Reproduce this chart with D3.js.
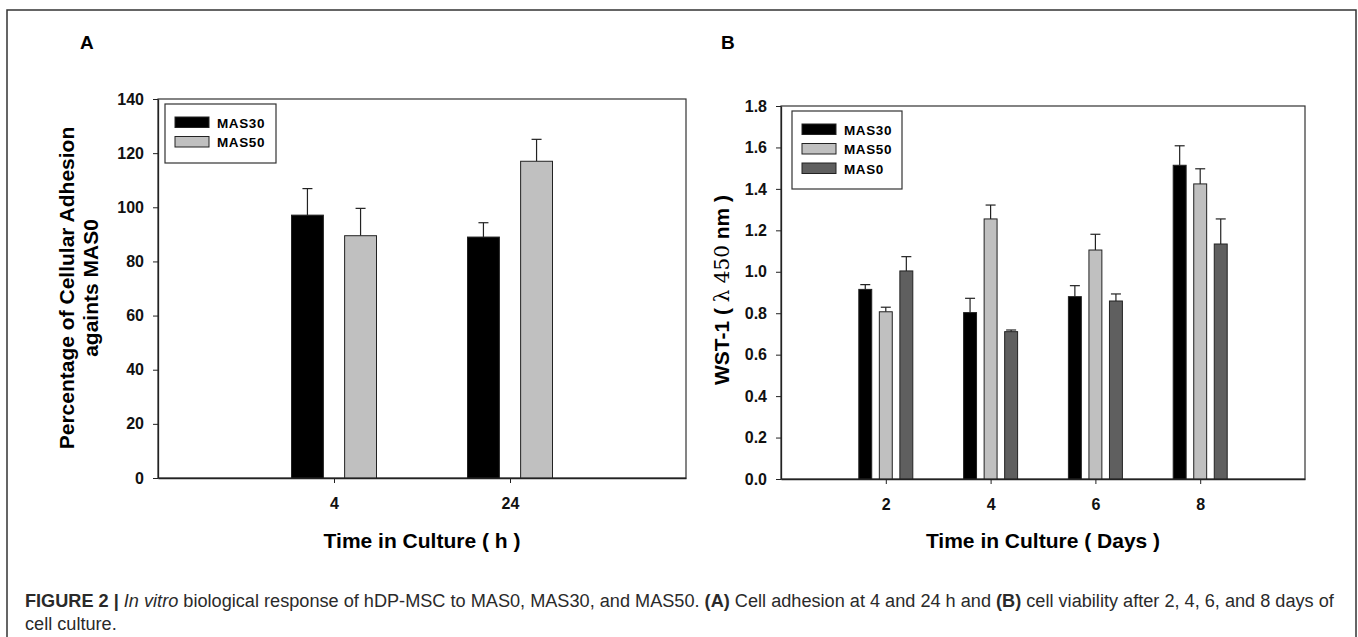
<!DOCTYPE html>
<html lang="en">
<head>
    <meta charset="UTF-8">
    <title>Figure 2</title>
    <script src="https://d3js.org/d3.v7.min.js"></script>
    <style>
        body { margin: 0; background: #fff; font-family: "Liberation Sans", Arial, sans-serif; }
        .tick text { font-weight: bold; fill: #111; }
        .axis path, .axis line { stroke: #222; }
    </style>
</head>
<body>
    <svg width="1358" height="637"></svg>
    <script>
        // panel A - adhesion
        const hoursA = ["4", "24"];
        const seriesA = ["MAS30", "MAS50"];
        const mas30A = [97.1, 89.0];
        const mas30AErr = [9.8, 5.3];
        const mas50A = [89.5, 117.0];
        const mas50AErr = [10.1, 8.1];
        const ticksA = [0, 20, 40, 60, 80, 100, 120, 140];

        // panel B - WST-1 viability
        const daysB = ["2", "4", "6", "8"];
        const seriesB = ["MAS30", "MAS50", "MAS0"];
        const mas30B = [0.915, 0.803, 0.880, 1.514];
        const mas30BErr = [0.023, 0.069, 0.053, 0.094];
        const mas50B = [0.807, 1.255, 1.105, 1.424];
        const mas50BErr = [0.022, 0.067, 0.076, 0.073];
        const mas0B = [1.004, 0.711, 0.859, 1.134];
        const mas0BErr = [0.069, 0.008, 0.034, 0.121];
        const ticksB = [0, 0.2, 0.4, 0.6, 0.8, 1.0, 1.2, 1.4, 1.6, 1.8];

        const colors = { MAS30: "#000000", MAS50: "#c0c0c0", MAS0: "#5f5f5f" };

        const svg = d3.select("svg");

        // outer frame
        svg.append("rect")
            .attr("x", 7).attr("y", 10)
            .attr("width", 1349).attr("height", 660)
            .attr("fill", "none")
            .attr("stroke", "#333")
            .attr("stroke-width", 1.5);

        function panel(p) {
            const g = svg.append("g");
            const x = d3.scalePoint().domain(p.cats).range([p.left, p.right]).padding(1);
            const y = d3.scaleLinear().domain([0, p.ymax]).range([p.bottom, p.top]);
            const inner = d3.scaleBand().domain(p.series)
                .range([-p.groupW / 2, p.groupW / 2])
                .paddingInner(p.pad);

            // frame (top + right)
            g.append("rect")
                .attr("x", p.left).attr("y", p.top)
                .attr("width", p.right - p.left).attr("height", p.bottom - p.top)
                .attr("fill", "none").attr("stroke", "#333").attr("stroke-width", 1.2);

            const rows = [];
            p.series.forEach((s, si) => {
                p.values[si].forEach((v, i) => {
                    rows.push({ s: s, cat: p.cats[i], v: v, e: p.errs[si][i] });
                });
            });

            // error bars (up only)
            const mid = d => x(d.cat) + inner(d.s) + inner.bandwidth() / 2;
            const eb = g.selectAll(".err").data(rows).enter().append("g")
                .attr("stroke", "#222").attr("stroke-width", 1.2);
            eb.append("line")
                .attr("x1", mid).attr("x2", mid)
                .attr("y1", d => y(d.v)).attr("y2", d => y(d.v + d.e));
            eb.append("line")
                .attr("x1", d => mid(d) - 5).attr("x2", d => mid(d) + 5)
                .attr("y1", d => y(d.v + d.e)).attr("y2", d => y(d.v + d.e));

            g.selectAll(".bar").data(rows).enter().append("rect")
                .attr("x", d => x(d.cat) + inner(d.s))
                .attr("width", inner.bandwidth())
                .attr("y", d => y(d.v))
                .attr("height", d => y(0) - y(d.v))
                .attr("fill", d => colors[d.s])
                .attr("stroke", "#222").attr("stroke-width", 1);

            // axes
            g.append("g").attr("class", "axis")
                .attr("transform", `translate(${p.left},0)`)
                .call(d3.axisLeft(y).tickValues(p.ticks).tickSize(5).tickPadding(9)
                    .tickFormat(p.fmt).tickSizeOuter(0))
                .call(a => a.selectAll("text").attr("font-size", 16))
                .call(a => a.select(".domain").attr("stroke-width", 1.3));
            g.append("g").attr("class", "axis")
                .attr("transform", `translate(0,${p.bottom})`)
                .call(d3.axisBottom(x).tickSize(5).tickPadding(15).tickSizeOuter(0))
                .call(a => a.selectAll("text").attr("font-size", 16))
                .call(a => a.select(".domain").attr("stroke-width", 1.3));

            // legend
            const lg = g.append("g");
            lg.append("rect")
                .attr("x", p.leg[0]).attr("y", p.leg[1])
                .attr("width", p.leg[2]).attr("height", p.leg[3])
                .attr("fill", "#fff").attr("stroke", "#333").attr("stroke-width", 1.2);
            p.series.forEach((s, i) => {
                const yy = p.leg[1] + 13 + i * 19.5;
                lg.append("rect")
                    .attr("x", p.leg[0] + 10).attr("y", yy)
                    .attr("width", 34).attr("height", 10.5)
                    .attr("fill", colors[s]).attr("stroke", "#222").attr("stroke-width", 1);
                lg.append("text")
                    .attr("x", p.leg[0] + 52).attr("y", yy + 10.5)
                    .attr("font-size", 13.5).attr("font-weight", "bold")
                    .attr("letter-spacing", 0.6)
                    .text(s);
            });

            // panel letter
            g.append("text").attr("x", p.letterX).attr("y", 49)
                .attr("font-size", 19).attr("font-weight", "bold").text(p.letter);

            // x title
            g.append("text")
                .attr("x", (p.left + p.right) / 2).attr("y", 548)
                .attr("text-anchor", "middle")
                .attr("font-size", 21).attr("font-weight", "bold")
                .text(p.xTitle);
            return g;
        }

        panel({
            letter: "A", letterX: 80,
            cats: hoursA, series: seriesA,
            values: [mas30A, mas50A], errs: [mas30AErr, mas50AErr],
            left: 158, right: 686, top: 99, bottom: 478, ymax: 140,
            ticks: ticksA, fmt: d3.format("d"),
            groupW: 85, pad: 0.4,
            leg: [165, 104, 111, 59],
            xTitle: "Time in Culture ( h )"
        });

        panel({
            letter: "B", letterX: 721,
            cats: daysB, series: seriesB,
            values: [mas30B, mas50B, mas0B], errs: [mas30BErr, mas50BErr, mas0BErr],
            left: 781, right: 1305, top: 106, bottom: 479, ymax: 1.8,
            ticks: ticksB, fmt: d3.format(".1f"),
            groupW: 54, pad: 0.37,
            leg: [792, 111, 110, 78],
            xTitle: "Time in Culture ( Days )"
        });

        // y titles
        const ytA = svg.append("text")
            .attr("transform", "translate(0,288) rotate(-90)")
            .attr("text-anchor", "middle")
            .attr("font-size", 21).attr("font-weight", "bold");
        ytA.append("tspan").attr("x", 0).attr("y", 74).text("Percentage of Cellular Adhesion");
        ytA.append("tspan").attr("x", 0).attr("y", 98).text("againts MAS0");

        const ytB = svg.append("text")
            .attr("transform", "translate(729,290) rotate(-90)")
            .attr("text-anchor", "middle")
            .attr("font-size", 21).attr("font-weight", "bold");
        ytB.append("tspan").text("WST-1 ( ");
        ytB.append("tspan").attr("font-weight", "normal")
            .attr("font-family", "'DejaVu Serif', serif").attr("font-size", 20)
            .text("\u03bb 450");
        ytB.append("tspan").text(" nm )");

        // caption
        const cap = svg.append("g").attr("fill", "#2a2a2a");
        const line1 = cap.append("text").attr("x", 25).attr("y", 607).attr("font-size", 16);
        [
            ["FIGURE 2 | ", "bold", "normal"],
            ["In vitro", "normal", "italic"],
            [" biological response of hDP-MSC to MAS0, MAS30, and MAS50. ", "normal", "normal"],
            ["(A)", "bold", "normal"],
            [" Cell adhesion at 4 and 24 h and ", "normal", "normal"],
            ["(B)", "bold", "normal"],
            [" cell viability after 2, 4, 6, and 8 days of", "normal", "normal"]
        ].forEach(t => {
            line1.append("tspan").attr("font-weight", t[1]).attr("font-style", t[2]).text(t[0]);
        });
        const w = line1.node().getComputedTextLength();
        const fs = 16 * 1310 / w;
        line1.attr("font-size", fs);
        cap.append("text").attr("x", 25).attr("y", 630).attr("font-size", fs).text("cell culture.");
    </script>
</body>
</html>
